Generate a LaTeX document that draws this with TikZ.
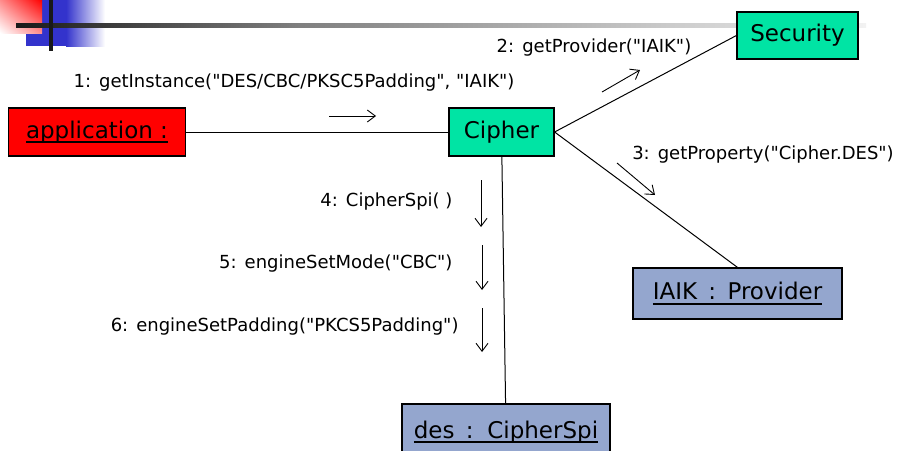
\documentclass[tikz,border=0pt]{standalone}
\usepackage{fontspec}
\setmainfont{DejaVu Sans}[Ligatures=TeXOff]
\usetikzlibrary{arrows.meta,shadings}
\definecolor{appred}{RGB}{255,0,0}
\definecolor{objgreen}{RGB}{0,228,164}
\definecolor{objblue}{RGB}{148,166,206}
\definecolor{deckblue}{RGB}{51,51,204}
\newcommand\objname[1]{\vtop{\hbox{\raisebox{0pt}[\height][0pt]{#1}}\kern3pt\hrule height1.6pt}}

\begin{document}
\begin{tikzpicture}[x=1pt,y=-1pt,line width=1pt,
  obj/.style={draw,line width=1.2pt,inner sep=0pt,font=\fontsize{23}{26}\selectfont},
  msg/.style={inner sep=0pt,font=\fontsize{18}{21}\selectfont},
  call/.style={-{Straight Barb[length=8pt,width=12pt]},line width=.9pt}]
\path[use as bounding box] (0,0) rectangle (904,450);
% slide corner
\fill[deckblue] (26,0) rectangle (66,46);
\shade[left color=deckblue,right color=white] (66,0) rectangle (105,46);
\shade[upper right=appred,lower left=white,upper left=appred!45,lower right=appred!45] (0,0) rectangle (42,33);
\shade[left color=black!90,right color=black!50] (16,23) rectangle (300,27);
\shade[left color=black!50,right color=black!5] (300,23) rectangle (866,27);
\fill[black!90] (49,0) rectangle (53,51);
% objects
\node[obj,fill=appred,minimum width=177pt,minimum height=48pt] (app) at (97,132) {\objname{application :}};
\node[obj,fill=objgreen,minimum width=105pt,minimum height=48pt] (cipher) at (501.5,132) {Cipher};
\node[obj,fill=objgreen,minimum width=121pt,minimum height=47pt] (security) at (797.5,35.5) {Security};
\node[obj,fill=objblue,minimum width=209pt,minimum height=51pt] (provider) at (737.5,293.5) {\objname{IAIK\hspace{4pt} : \hspace{4pt}Provider}};
\node[obj,fill=objblue,minimum width=208pt,minimum height=56pt] (des) at (506,432) {\objname{des\hspace{4pt} : \hspace{4pt}CipherSpi}};
% links
\draw (app) -- (cipher);
\draw (cipher.east) -- (security.west);
\draw (cipher.east) -- (provider.north);
\draw (cipher) -- (des);
% messages
\coordinate (m1a) at (329,116); \coordinate (m1b) at (376,116);
\coordinate (m2a) at (602,92);  \coordinate (m2b) at (640,70);
\coordinate (m3a) at (617,163); \coordinate (m3b) at (655,195);
\coordinate (m4a) at (481,180); \coordinate (m4b) at (481,227);
\coordinate (m5a) at (482,245); \coordinate (m5b) at (482,290);
\coordinate (m6a) at (482,308); \coordinate (m6b) at (482,352);
\draw[call] (m1a) -- (m1b);
\draw[call] (m2a) -- (m2b);
\draw[call] (m3a) -- (m3b);
\draw[call] (m4a) -- (m4b);
\draw[call] (m5a) -- (m5b);
\draw[call] (m6a) -- (m6b);
\node[msg] (l1) at (294,83) {1:\hspace{8pt}getInstance("DES/CBC/PKSC5Padding", "IAIK")};
\node[msg] (l2) at (594,48) {2:\hspace{8pt}getProvider("IAIK")};
\node[msg] (l3) at (763,155) {3:\hspace{8pt}getProperty("Cipher.DES")};
\node[msg,anchor=east] (l4) at (453,202) {4:\hspace{8pt}CipherSpi(~)};
\node[msg,anchor=east] (l5) at (453,264) {5:\hspace{8pt}engineSetMode("CBC")};
\node[msg,anchor=east] (l6) at (459,327) {6:\hspace{8pt}engineSetPadding("PKCS5Padding")};
\end{tikzpicture}
\end{document}
